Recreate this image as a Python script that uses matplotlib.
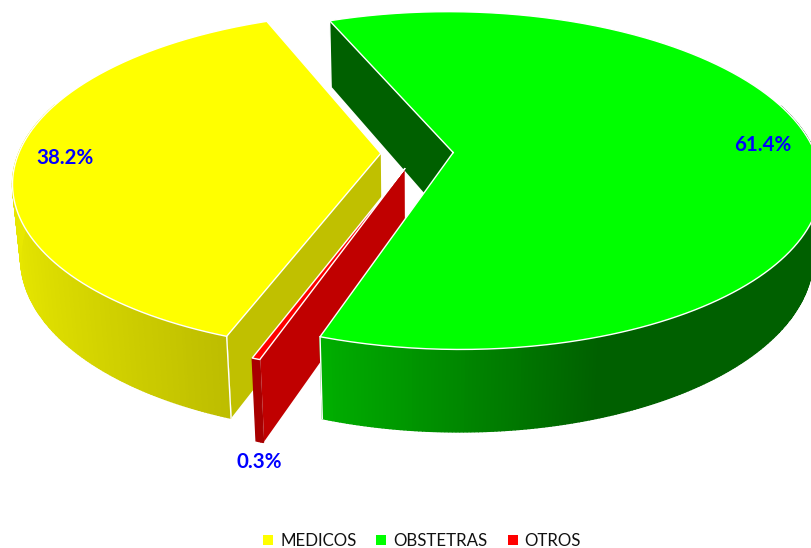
import numpy as np
import matplotlib
matplotlib.use("Agg")
import matplotlib.pyplot as plt
from matplotlib.lines import Line2D

labels = ["MEDICOS", "OBSTETRAS", "OTROS"]
values = [38.2, 61.4, 0.3]
pct_labels = ["38.2%", "61.4%", "0.3%"]
top_colors = ["#FFFF00", "#00FF00", "#FF0000"]
inner_colors = ["#C0C000", "#006000", "#C00000"]

first_angle = 200.1
explode = 0.1

# perspective camera, in pixels
cx, cy = 417, 153
a, b, h = 362, 164.4, 74.4
k, m = 0.166, 0.02


def project(x, y, z):
    w = 1 - k * y + m * z
    return cx + a * x / w, cy + (b * y + h * z) / w


def arc(start, end, n):
    t = np.radians(np.linspace(start, end, n))
    return np.sin(t), -np.cos(t)


def outer_shade(i, x):
    # shading of the rim runs with the horizontal position
    if i == 0:
        v = np.interp(x, [-1.1, -0.4], [232, 186]) / 255
        return (v, v, 0)
    if i == 1:
        v = np.interp(x, [-0.25, 0.42], [178, 96]) / 255
        return (0, v, 0)
    return (0.66, 0, 0)


fig = plt.figure(figsize=(8.11, 5.48), dpi=100)
ax = fig.add_axes([0, 0, 1, 1])
ax.set_xlim(0, 811)
ax.set_ylim(548, 0)
ax.axis("off")

total = sum(values)
sweeps = [v / total * 360 for v in values]
# clockwise order of the slices: yellow, green, red
starts = []
ang = first_angle
for s in sweeps:
    starts.append(ang)
    ang += s

slices = []
for i in range(3):
    mid = np.radians(starts[i] + sweeps[i] / 2)
    ox, oy = explode * np.sin(mid), -explode * np.cos(mid)
    ax_, ay_ = arc(starts[i], starts[i] + sweeps[i], max(int(sweeps[i] * 2), 4))
    slices.append((ox, oy, ax_ + ox, ay_ + oy))

WHITE = dict(color="white", lw=1.0, solid_joinstyle="round")

# drawing order of the flat walls and of the rims
wall_z = {1: 1, 0: 2, 2: 3}
rim_z = {0: 2.2, 2: 3.2, 1: 5}


def inner_wall(i, px, py):
    ox, oy = slices[i][:2]
    xs = np.array([ox, px])
    ys = np.array([oy, py])
    tx, ty = project(xs, ys, 0)
    bx, by = project(xs, ys, 1)
    ax.fill([tx[0], tx[1], bx[1], bx[0]], [ty[0], ty[1], by[1], by[0]],
            color=inner_colors[i], lw=0, zorder=wall_z[i])
    ax.plot([tx[1], bx[1]], [ty[1], by[1]], zorder=wall_z[i] + 0.1, **WHITE)


def outer_wall(i):
    _, _, xs, ys = slices[i]
    for j in range(len(xs) - 1):
        if ys[j] < -0.3 and ys[j + 1] < -0.3:
            continue
        tx, ty = project(xs[j:j + 2], ys[j:j + 2], 0)
        bx, by = project(xs[j:j + 2], ys[j:j + 2], 1)
        c = outer_shade(i, (xs[j] + xs[j + 1]) / 2)
        ax.fill([tx[0], tx[1], bx[1], bx[0]], [ty[0], ty[1], by[1], by[0]],
                color=c, ec=c, lw=1.0, zorder=rim_z[i])


def top_face(i):
    ox, oy, xs, ys = slices[i]
    px, py = project(np.r_[ox, xs, ox], np.r_[oy, ys, oy], 0)
    ax.fill(px, py, color=top_colors[i], lw=0, zorder=10 + wall_z[i])
    ax.plot(px, py, zorder=10.1 + wall_z[i], **WHITE)


# green back wall is seen at the start of its arc
inner_wall(1, slices[1][2][0], slices[1][3][0])
# yellow wall at the end of its arc
inner_wall(0, slices[0][2][0], slices[0][3][0])
outer_wall(0)
# red wall on the green side of the thin slice
inner_wall(2, slices[2][2][0], slices[2][3][0])
outer_wall(2)
outer_wall(1)

# vertical seam on the rim ends
for i, j in [(0, 0), (1, -1), (0, -1)]:
    x0, y0 = slices[i][2][j], slices[i][3][j]
    tx, ty = project(x0, y0, 0)
    bx, by = project(x0, y0, 1)
    if y0 > 0:
        ax.plot([tx, bx], [ty, by], zorder=rim_z[i] + 0.5, **WHITE)

for i in range(3):
    top_face(i)

label_pos = [(65, 158), (763, 145), (259, 462)]
for (lx, ly), t in zip(label_pos, pct_labels):
    ax.text(lx, ly, t, color="#0000FF", fontsize=14.8, fontweight="bold",
            family="Lato", ha="center", va="center", zorder=30)

handles = [Line2D([], [], ls="", marker="s", ms=6.5, color=c, mew=0) for c in top_colors]
ax.legend(handles, labels, loc="lower center", bbox_to_anchor=(0.513, -0.023), ncol=3,
          frameon=False, prop={"family": "Lato", "size": 12.2}, handletextpad=-0.3,
          columnspacing=0.48, labelcolor="#111111", borderpad=0.2)

fig.savefig("out.png", dpi=100)
